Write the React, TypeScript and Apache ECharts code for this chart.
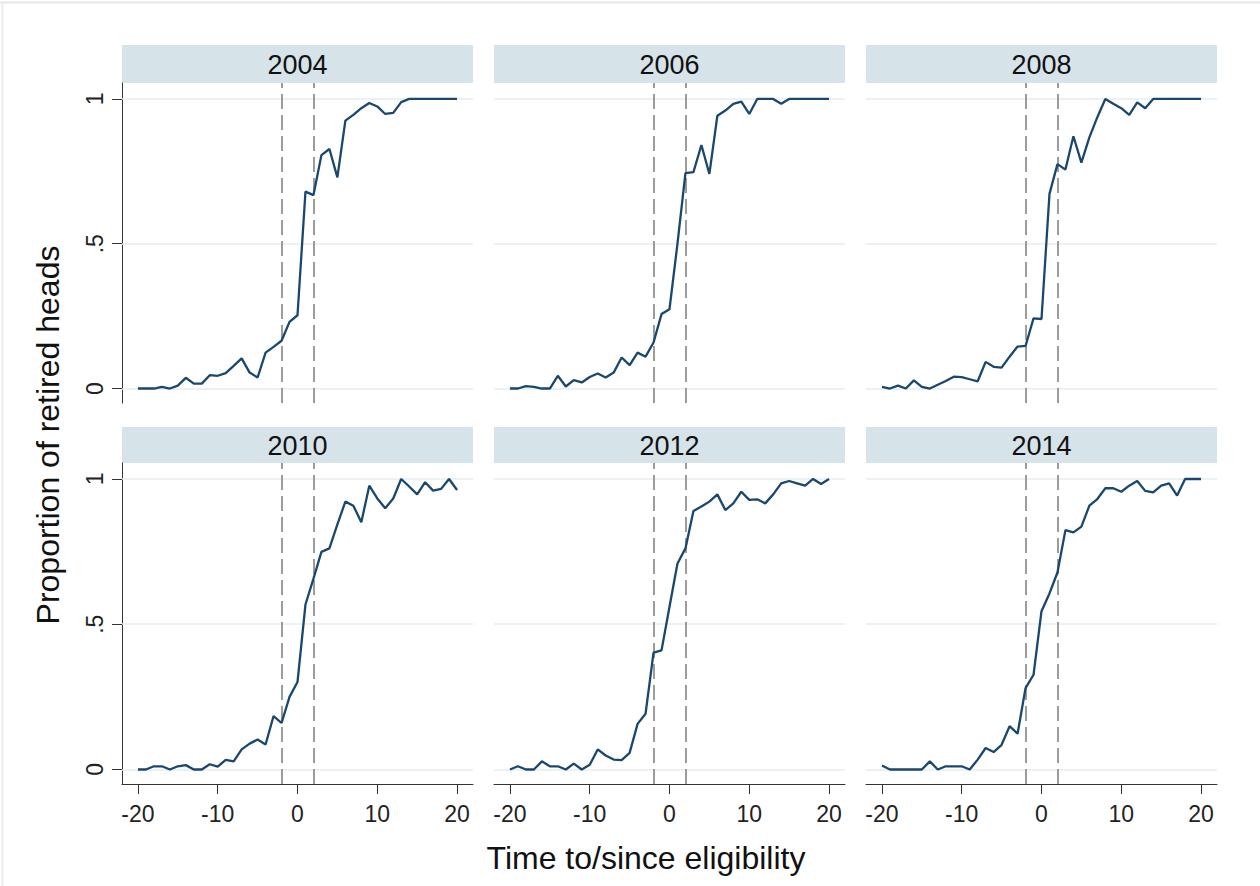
import React, { useEffect, useRef } from "react";
import * as echarts from "echarts";

const TIMES = [-20, -19, -18, -17, -16, -15, -14, -13, -12, -11, -10, -9, -8, -7, -6, -5, -4, -3, -2, -1, 0, 1, 2, 3, 4, 5, 6, 7, 8, 9, 10, 11, 12, 13, 14, 15, 16, 17, 18, 19, 20];

const YEARS = ["2004", "2006", "2008", "2010", "2012", "2014"];

const Y2004 = [0, 0, 0, 0.006, 0, 0.01, 0.037, 0.017, 0.017, 0.046, 0.044, 0.053, 0.078, 0.104, 0.055, 0.038, 0.124, 0.144, 0.165, 0.23, 0.253, 0.68, 0.668, 0.806, 0.827, 0.729, 0.925, 0.945, 0.968, 0.986, 0.974, 0.948, 0.952, 0.989, 1, 1, 1, 1, 1, 1, 1];
const Y2006 = [0, 0, 0.008, 0.006, 0, 0, 0.044, 0.007, 0.029, 0.021, 0.04, 0.052, 0.038, 0.055, 0.107, 0.081, 0.124, 0.11, 0.159, 0.257, 0.274, 0.5, 0.744, 0.747, 0.841, 0.741, 0.942, 0.96, 0.983, 0.991, 0.948, 1, 1, 1, 0.983, 1, 1, 1, 1, 1, 1];
const Y2008 = [0.006, 0, 0.01, 0, 0.028, 0.006, 0, 0.013, 0.026, 0.041, 0.039, 0.032, 0.025, 0.092, 0.075, 0.072, 0.11, 0.145, 0.147, 0.242, 0.24, 0.672, 0.775, 0.756, 0.871, 0.78, 0.867, 0.937, 1, 0.983, 0.968, 0.945, 0.988, 0.968, 1, 1, 1, 1, 1, 1, 1];
const Y2010 = [0, 0, 0.011, 0.011, 0, 0.011, 0.015, 0, 0, 0.018, 0.01, 0.033, 0.028, 0.069, 0.089, 0.103, 0.086, 0.184, 0.16, 0.25, 0.301, 0.568, 0.657, 0.749, 0.761, 0.844, 0.922, 0.908, 0.851, 0.977, 0.933, 0.899, 0.933, 1, 0.974, 0.947, 0.989, 0.96, 0.966, 1, 0.962];
const Y2012 = [0, 0.011, 0, 0, 0.028, 0.011, 0.011, 0, 0.02, 0, 0.016, 0.069, 0.048, 0.034, 0.032, 0.057, 0.157, 0.192, 0.402, 0.41, 0.56, 0.709, 0.761, 0.89, 0.905, 0.922, 0.947, 0.893, 0.916, 0.956, 0.928, 0.93, 0.916, 0.947, 0.985, 0.993, 0.985, 0.977, 1, 0.983, 1];
const Y2014 = [0.014, 0, 0, 0, 0, 0, 0.028, 0, 0.011, 0.011, 0.011, 0, 0.034, 0.074, 0.06, 0.085, 0.149, 0.123, 0.28, 0.326, 0.545, 0.606, 0.678, 0.824, 0.816, 0.836, 0.908, 0.931, 0.968, 0.968, 0.956, 0.977, 0.993, 0.959, 0.954, 0.977, 0.985, 0.943, 1, 1, 1];

const PANEL_VALUES = [Y2004, Y2006, Y2008, Y2010, Y2012, Y2014];

const X_TICKS = [-20, -10, 0, 10, 20];
const Y_TICKS = [0, 0.5, 1];
const Y_TICK_LABELS = ["0", ".5", "1"];
const ELIGIBILITY_LINES = [-2, 2];

const FONT = "'Liberation Sans', Arial, Helvetica, sans-serif";

export default function App() {
  const ref = useRef<HTMLDivElement>(null);

  useEffect(() => {
    if (!ref.current) return;
    const chart = echarts.init(ref.current, undefined, { renderer: "svg" });

    const colLefts = [122, 494, 866];
    const colWidth = 351;
    const rowTops = [83, 463];
    const rowHeights = [320, 321];
    const headerTops = [45, 427];
    const headerHeights = [38, 36];

    const grids: any[] = [];
    const xAxes: any[] = [];
    const yAxes: any[] = [];
    const series: any[] = [];
    const graphics: any[] = [];

    graphics.push({
      type: "line",
      shape: { x1: 0, y1: 2.5, x2: 1260, y2: 2.5 },
      style: { stroke: "#e6e6e6", lineWidth: 2 },
      silent: true,
    });
    graphics.push({
      type: "line",
      shape: { x1: 2.5, y1: 2.5, x2: 2.5, y2: 886 },
      style: { stroke: "#ececec", lineWidth: 2 },
      silent: true,
    });

    YEARS.forEach((year, i) => {
      const row = Math.floor(i / 3);
      const col = i % 3;
      const left = colLefts[col];
      const top = rowTops[row];
      grids.push({ left, top, width: colWidth, height: rowHeights[row], containLabel: false });

      const showX = row === 1;
      const showY = col === 0;

      xAxes.push({
        type: "value",
        gridIndex: i,
        min: -22,
        max: 22,
        show: showX,
        splitLine: { show: false },
        axisLine: { show: showX, onZero: false, lineStyle: { color: "#333", width: 1 } },
        axisTick: {
          show: showX,
          length: 10,
          customValues: X_TICKS,
          lineStyle: { color: "#333", width: 1 },
        },
        axisLabel: {
          show: showX,
          customValues: X_TICKS,
          fontSize: 23,
          color: "#222",
          fontFamily: FONT,
          margin: 18,
        },
      });

      yAxes.push({
        type: "value",
        gridIndex: i,
        min: -0.05,
        max: 1.055,
        show: showY,
        splitLine: { show: false },
        axisLine: { show: showY, onZero: false, lineStyle: { color: "#333", width: 1 } },
        axisTick: {
          show: showY,
          length: 10,
          customValues: Y_TICKS,
          lineStyle: { color: "#333", width: 1 },
        },
        axisLabel: {
          show: showY,
          customValues: Y_TICKS,
          rotate: 90,
          margin: 16,
          fontSize: 23,
          color: "#222",
          fontFamily: FONT,
          formatter: (v: number) => {
            const k = Y_TICKS.findIndex((t) => Math.abs(t - v) < 1e-9);
            return k >= 0 ? Y_TICK_LABELS[k] : "";
          },
        },
      });

      const refData: any[] = [];
      Y_TICKS.forEach((t) =>
        refData.push({ yAxis: t, lineStyle: { color: "#e6edf1", type: "solid", width: 1.5 } })
      );
      ELIGIBILITY_LINES.forEach((t) =>
        refData.push({ xAxis: t, lineStyle: { color: "#9c9c9c", type: [15, 6], width: 2 } })
      );

      series.push({
        type: "line",
        xAxisIndex: i,
        yAxisIndex: i,
        data: [],
        z: 1,
        silent: true,
        markLine: {
          z: 1,
          silent: true,
          symbol: ["none", "none"],
          label: { show: false },
          emphasis: { disabled: true },
          data: refData,
        },
      });

      const vals = PANEL_VALUES[i];
      series.push({
        type: "line",
        name: year,
        xAxisIndex: i,
        yAxisIndex: i,
        z: 6,
        symbol: "none",
        showSymbol: false,
        silent: true,
        lineStyle: { color: "#1a476f", width: 2.3 },
        data: TIMES.map((t, k) => [t, vals[k]]),
      });

      graphics.push({
        type: "rect",
        shape: { x: left, y: headerTops[row], width: colWidth, height: headerHeights[row] },
        style: { fill: "#d6e3e9" },
        silent: true,
      });
      graphics.push({
        type: "text",
        x: left + colWidth / 2,
        y: headerTops[row] + headerHeights[row] / 2 + 1,
        style: {
          text: year,
          fontSize: 27,
          fontFamily: FONT,
          fill: "#111",
          align: "center",
          verticalAlign: "middle",
          textAlign: "center",
          textVerticalAlign: "middle",
        },
        silent: true,
      });
    });

    graphics.push({
      type: "text",
      x: 48,
      y: 435,
      rotation: Math.PI / 2,
      style: {
        text: "Proportion of retired heads",
        fontSize: 32,
        fontFamily: FONT,
        fill: "#111",
        align: "center",
        verticalAlign: "middle",
        textAlign: "center",
        textVerticalAlign: "middle",
      },
      silent: true,
    });
    graphics.push({
      type: "text",
      x: 646,
      y: 858,
      style: {
        text: "Time to/since eligibility",
        fontSize: 32,
        fontFamily: FONT,
        fill: "#111",
        align: "center",
        verticalAlign: "middle",
        textAlign: "center",
        textVerticalAlign: "middle",
      },
      silent: true,
    });

    chart.setOption({
      animation: false,
      backgroundColor: "#ffffff",
      grid: grids,
      xAxis: xAxes,
      yAxis: yAxes,
      series,
      graphic: graphics,
    });

    return () => chart.dispose();
  }, []);

  return (
    <div
      ref={ref}
      style={{ position: "fixed", left: 0, top: 0, width: 1260, height: 886, background: "#fff" }}
    />
  );
}
